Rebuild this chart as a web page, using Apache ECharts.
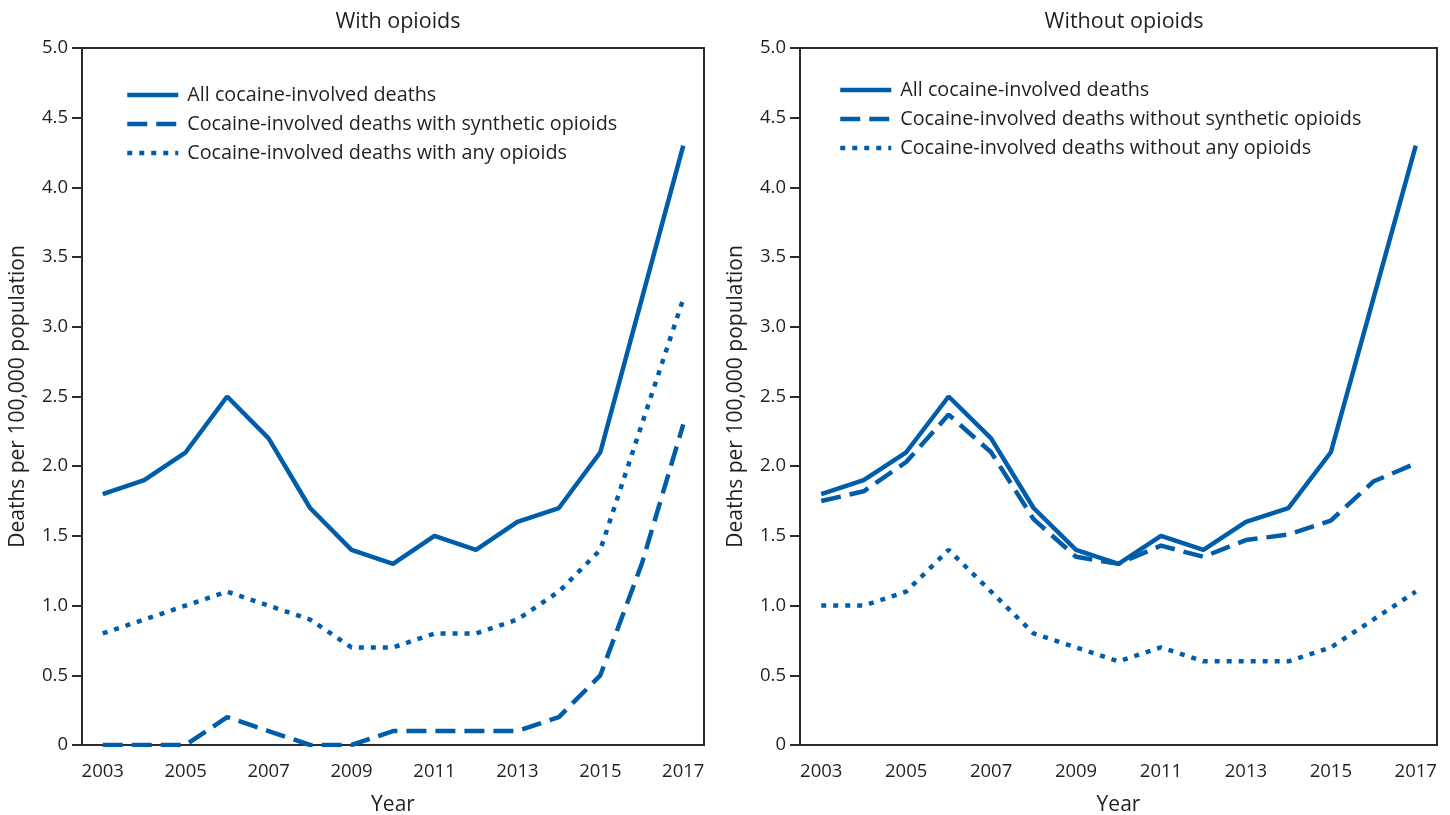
<!DOCTYPE html>
<html>
<head>
<meta charset="utf-8">
<script src="https://cdn.jsdelivr.net/npm/echarts@6/dist/echarts.min.js"></script>
<style>
html,body{margin:0;padding:0;background:#fff;}
#c{width:1450px;height:815px;}
</style>
</head>
<body>
<div id="c"></div>
<script>
const years = ['2003','2004','2005','2006','2007','2008','2009','2010','2011','2012','2013','2014','2015','2016','2017'];
const allCocaine = [1.8,1.9,2.1,2.5,2.2,1.7,1.4,1.3,1.5,1.4,1.6,1.7,2.1,3.2,4.3];
const withSynthetic = [0,0,0,0.2,0.1,0,0,0.1,0.1,0.1,0.1,0.2,0.5,1.3,2.3];
const withAny = [0.8,0.9,1.0,1.1,1.0,0.9,0.7,0.7,0.8,0.8,0.9,1.1,1.4,2.3,3.2];
const withoutSynthetic = [1.75,1.82,2.03,2.37,2.1,1.62,1.35,1.3,1.43,1.35,1.47,1.51,1.61,1.89,2.02];
const withoutAny = [1.0,1.0,1.1,1.4,1.1,0.8,0.7,0.6,0.7,0.6,0.6,0.6,0.7,0.9,1.1];
const panelTitles = ['With opioids','Without opioids'];
const leftNames = ['All cocaine-involved deaths','Cocaine-involved deaths with synthetic opioids','Cocaine-involved deaths with any opioids'];
const rightNames = ['All cocaine-involved deaths ','Cocaine-involved deaths without synthetic opioids','Cocaine-involved deaths without any opioids'];

const BLUE = '#005da9';
const AX = '#2b2b2b';
const TXT = '#231f20';
const FONT = 'Open Sans';
const chart = echarts.init(document.getElementById('c'));

function xAxis(gi){
  return {
    type:'category', gridIndex:gi, data:years, boundaryGap:true,
    name:'Year', nameLocation:'middle', nameGap:50,
    nameTextStyle:{fontFamily:FONT,fontSize:21,color:TXT},
    axisLine:{lineStyle:{color:AX,width:2}},
    axisTick:{alignWithLabel:true,interval:0,length:10,lineStyle:{color:AX,width:2}},
    axisLabel:{interval:1,fontFamily:FONT,fontSize:18.5,color:TXT,margin:17}
  };
}
function yAxis(gi){
  return {
    type:'value', gridIndex:gi, min:0, max:5, interval:0.5,
    name:'Deaths per 100,000 population', nameLocation:'middle', nameGap:53,
    nameTextStyle:{fontFamily:FONT,fontSize:21,color:TXT},
    axisLine:{show:true,lineStyle:{color:AX,width:2}},
    axisTick:{show:true,length:10,lineStyle:{color:AX,width:2}},
    splitLine:{show:false},
    axisLabel:{fontFamily:FONT,fontSize:18.5,color:TXT,margin:14,
      formatter:v=> v===0 ? '0' : v.toFixed(1)}
  };
}
function line(name,data,gi,type){
  return {
    type:'line', name:name, data:data, xAxisIndex:gi, yAxisIndex:gi,
    symbol:'none', animation:false,
    lineStyle:{color:BLUE,width:4.5,type:type,cap:'butt'},
    itemStyle:{color:BLUE}
  };
}
function legend(names,left,top){
  return {
    orient:'vertical', left:left, top:top, padding:0, itemGap:9, itemWidth:51, itemHeight:22,
    data:names,
    itemStyle:{opacity:0},
    lineStyle:{width:4.5,color:BLUE,type:'inherit'},
    textStyle:{fontFamily:FONT,fontSize:19.8,color:TXT,padding:[0,0,0,4]},
    selectedMode:false
  };
}

chart.setOption({
  backgroundColor:'#fff',
  animation:false,
  title:[
    {text:panelTitles[0],left:393,top:6,textAlign:'center',textStyle:{fontFamily:FONT,fontSize:21.5,fontWeight:'normal',color:TXT}},
    {text:panelTitles[1],left:1119,top:6,textAlign:'center',textStyle:{fontFamily:FONT,fontSize:21.5,fontWeight:'normal',color:TXT}}
  ],
  legend:[legend(leftNames,125,85), legend(rightNames,838,80)],
  grid:[
    {left:82,top:48,width:622,height:697,show:true,borderColor:AX,borderWidth:2,backgroundColor:'transparent',containLabel:false,outerBoundsMode:'none'},
    {left:800,top:48,width:637,height:697,show:true,borderColor:AX,borderWidth:2,backgroundColor:'transparent',containLabel:false,outerBoundsMode:'none'}
  ],
  xAxis:[xAxis(0),xAxis(1)],
  yAxis:[yAxis(0),yAxis(1)],
  series:[
    line(leftNames[0],allCocaine,0,'solid'),
    line(leftNames[1],withSynthetic,0,[20,9]),
    line(leftNames[2],withAny,0,[5,7]),
    line(rightNames[0],allCocaine,1,'solid'),
    line(rightNames[1],withoutSynthetic,1,[20,9]),
    line(rightNames[2],withoutAny,1,[5,7])
  ]
});
</script>
</body>
</html>
